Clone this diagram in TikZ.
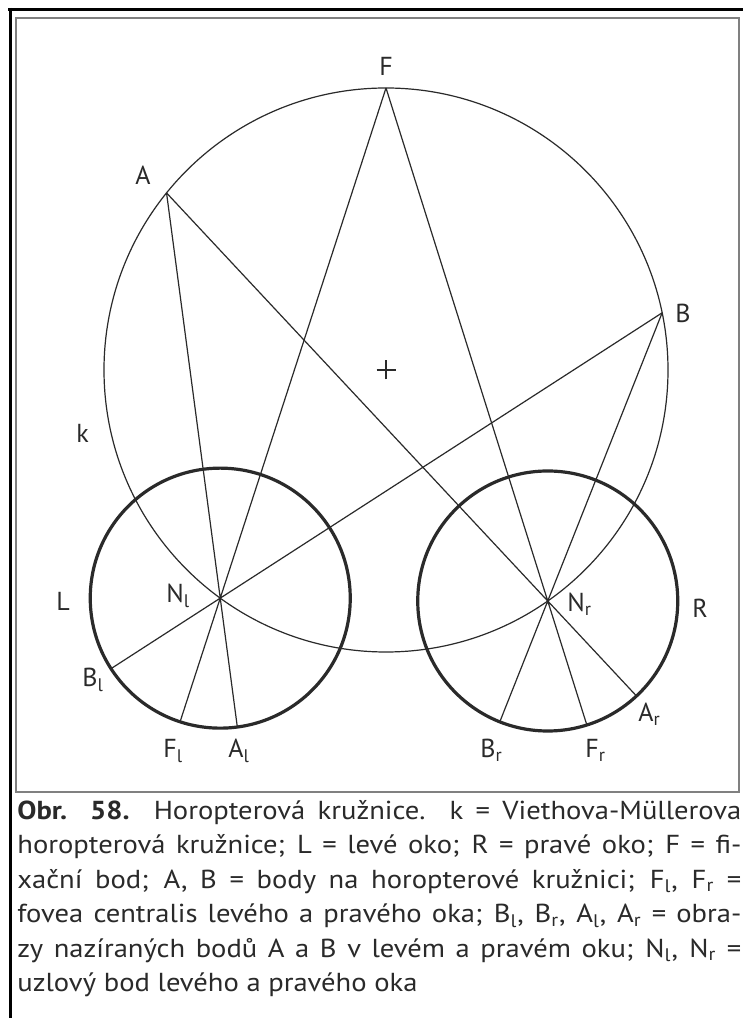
\documentclass[tikz,border=0pt]{standalone}
\usepackage{fontspec}
\setmainfont{PT Sans}
\newfontfamily\capfont[FakeStretch=1.1]{PT Sans}
\usepackage{xcolor}
\usepackage{tikz}
\usetikzlibrary{calc}
\definecolor{cInk}{HTML}{2A2A2A}
\definecolor{cFrame}{HTML}{808080}
\tikzset{ray/.style={line width=0.6pt,draw=cInk},
  eye/.style={line width=1.6pt,draw=cInk},
  lbl/.style={anchor=base west,inner sep=0pt,text=cInk,font=\fontsize{13}{15}\selectfont}}
\newcommand{\horr}{28.2}
\newcommand{\ix}[1]{\textsubscript{#1}}
\newcommand{\capline}[1]{\makebox[362pt][s]{#1}}

\begin{document}
\begin{tikzpicture}[x=5pt,y=5pt]
  \useasboundingbox (0,0) rectangle (74.3,101.8);
  \fill[white] (0,0) rectangle (74.3,101.8);
  \draw[line width=1.4pt] (0.8,100.85) -- (74.3,100.85);
  \draw[line width=1.5pt] (1.0,101.0) -- (1.0,0);
  \draw[cFrame,line width=0.75pt] (1.6,22.6) rectangle (73.9,100.0);
  % horopter circle k and the points on it
  \coordinate (O) at (38.6,64.8);
  \coordinate (F) at ($(O)+(90:\horr)$);
  \coordinate (A) at ($(O)+(141.1:\horr)$);
  \coordinate (B) at ($(O)+(11.7:\horr)$);
  \coordinate (Nl) at ($(O)+(234:\horr)$);
  \coordinate (Nr) at ($(O)+(305:\horr)$);
  % images on the retina, eye radius 13 = 65pt
  \coordinate (Fl) at ($(Nl)!-65pt!(F)$);
  \coordinate (Al) at ($(Nl)!-65pt!(A)$);
  \coordinate (Bl) at ($(Nl)!-65pt!(B)$);
  \coordinate (Fr) at ($(Nr)!-65pt!(F)$);
  \coordinate (Ar) at ($(Nr)!-65pt!(A)$);
  \coordinate (Br) at ($(Nr)!-65pt!(B)$);
  \draw[ray] (O) circle (\horr);
  \draw[eye] (Nl) circle (13);
  \draw[eye] (Nr) circle (13);
  \draw[ray] (F) -- (Fl) (A) -- (Al) (B) -- (Bl);
  \draw[ray] (F) -- (Fr) (A) -- (Ar) (B) -- (Br);
  \draw[ray,line width=0.8pt] ($(O)+(-0.95,0)$) -- ($(O)+(0.95,0)$) ($(O)+(0,-0.95)$) -- ($(O)+(0,0.95)$);
  % labels
  \node[lbl] (lF) at (37.9,94.2) {F};
  \node[lbl] (lA) at (13.5,83.3) {A};
  \node[lbl] (lB) at (67.5,69.5) {B};
  \node[lbl] (lk) at (7.6,57.5) {k};
  \node[lbl] (lL) at (5.6,40.7) {L};
  \node[lbl] (lR) at (69.2,40.0) {R};
  \node[lbl] (lNl) at (16.6,41.5) {N\ix{l}};
  \node[lbl] (lNr) at (56.7,40.6) {N\ix{r}};
  \node[lbl] (lBl) at (8.2,33.1) {B\ix{l}};
  \node[lbl] (lFl) at (16.3,26.0) {F\ix{l}};
  \node[lbl] (lAl) at (22.8,26.0) {A\ix{l}};
  \node[lbl] (lBr) at (48.0,26.0) {B\ix{r}};
  \node[lbl] (lFr) at (58.5,26.0) {F\ix{r}};
  \node[lbl] (lAr) at (63.8,29.6) {A\ix{r}};
  % caption
  \node[anchor=north west,inner sep=0pt,align=left,text=cInk,font=\capfont\fontsize{13}{17.2}\selectfont] (cap) at (1.7,21.8)
    {\capline{\textbf{Obr. 58.} Horopterová kružnice. k = Viethova-Müllerova}\\
     \capline{horopterová kružnice; L = levé oko; R = pravé oko; F = fi-}\\
     \capline{xační bod; A, B = body na horopterové kružnici; F\ix{l}, F\ix{r} =}\\
     \capline{fovea centralis levého a pravého oka; B\ix{l}, B\ix{r}, A\ix{l}, A\ix{r} = obra-}\\
     \capline{zy nazíraných bodů A a B v levém a pravém oku; N\ix{l}, N\ix{r} =}\\
     uzlový bod levého a pravého oka};
\end{tikzpicture}
\end{document}
